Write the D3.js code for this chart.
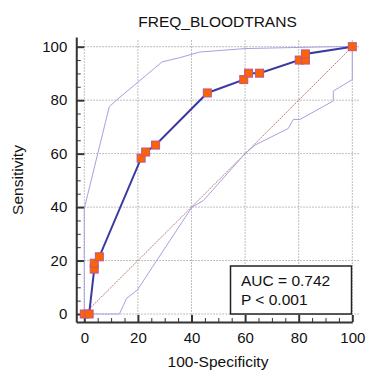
<!DOCTYPE html>
<html>
<head>
<meta charset="utf-8">
<script src="https://cdn.jsdelivr.net/npm/d3@7"></script>
<style>
  html, body { margin: 0; padding: 0; background: #fff; }
  svg { display: block; font-family: "Liberation Sans", Arial, sans-serif; }
  .axis path, .axis line { stroke: #333; }
  .axis text { fill: #111; font-size: 15px; }
</style>
</head>
<body>
<div id="chart"></div>
<script>
// ROC points (100-Specificity, Sensitivity)
const rocX = [0, 1.8, 3.7, 3.7, 5.6, 21.2, 22.9, 26.6, 45.9, 59.5, 61.3, 65.4, 80.2, 82.5, 82.5, 100];
const rocY = [0, 0, 16.8, 19.0, 21.4, 58.3, 60.6, 63.2, 82.7, 87.7, 90.1, 90.1, 95.0, 95.0, 97.3, 100];

// 95% confidence bounds
const upperX = [0, 0, 9.3, 12, 29, 36, 43, 60, 93, 100];
const upperY = [0, 39.5, 77.5, 80, 94.3, 96, 98, 99.3, 100, 100];
const lowerX = [0, 13.1, 15.8, 17.4, 19.8, 40.1, 44.4, 60, 63.7, 76.1, 78, 80.5, 92.9, 92.9, 100, 100];
const lowerY = [0, 0, 5.9, 7.1, 9.0, 39.9, 42.4, 60, 63.2, 69.4, 72.8, 72.8, 79.7, 83.4, 87.7, 100];

const diagX = [0, 100];
const diagY = [0, 100];

const majorTicks = [0, 20, 40, 60, 80, 100];
const minorTicks = [5, 10, 15, 25, 30, 35, 45, 50, 55, 65, 70, 75, 85, 90, 95];

const title = 'FREQ_BLOODTRANS';
const xTitle = '100-Specificity';
const yTitle = 'Sensitivity';
const statLines = ['AUC = 0.742', 'P < 0.001'];

const width = 366;
const height = 370;

const x = d3.scaleLinear().domain([0, 100]).range([84.3, 352.3]);
const y = d3.scaleLinear().domain([0, 100]).range([314, 46.7]);

const zip = (xs, ys) => xs.map((v, i) => [v, ys[i]]);

const svg = d3.select('#chart')
  .append('svg')
  .attr('width', width)
  .attr('height', height);

// grid
const grid = svg.append('g').attr('class', 'grid');
grid.selectAll('.hgrid')
  .data(majorTicks)
  .join('line')
  .attr('x1', x(0))
  .attr('x2', x(103))
  .attr('y1', d => y(d))
  .attr('y2', d => y(d))
  .attr('stroke', '#aaa')
  .attr('stroke-dasharray', '1.5,1.5');
grid.selectAll('.vgrid')
  .data(majorTicks)
  .join('line')
  .attr('x1', d => x(d))
  .attr('x2', d => x(d))
  .attr('y1', y(-0.3))
  .attr('y2', y(102.5))
  .attr('stroke', '#aaa')
  .attr('stroke-dasharray', '1.5,1.5');

// axes (offset outward from the plot area)
const xAx = d3.scaleLinear().domain([-3, 100]).range([x(-3), x(100)]);
const yAx = d3.scaleLinear().domain([-3, 103.6]).range([y(-3), y(103.6)]);
const xAxisY = y(-3);
const yAxisX = x(-3);

svg.append('g')
  .attr('class', 'axis')
  .attr('transform', `translate(0,${xAxisY})`)
  .call(d3.axisBottom(xAx).tickValues(majorTicks).tickSize(-7).tickSizeOuter(0).tickPadding(10))
  .call(g => g.select('.domain').attr('stroke-width', 2))
  .call(g => g.selectAll('.tick line').attr('stroke-width', 2))
  .call(g => g.selectAll('.tick text').attr('font-size', 15));

svg.append('g')
  .attr('class', 'axis')
  .attr('transform', `translate(0,${xAxisY})`)
  .call(d3.axisBottom(xAx).tickValues(minorTicks).tickSize(-4).tickSizeOuter(0).tickFormat(''))
  .call(g => g.select('.domain').remove());

svg.append('g')
  .attr('class', 'axis')
  .attr('transform', `translate(${yAxisX},0)`)
  .call(d3.axisLeft(yAx).tickValues(majorTicks).tickSize(-8).tickSizeOuter(0).tickPadding(9))
  .call(g => g.select('.domain').attr('stroke-width', 2))
  .call(g => g.selectAll('.tick line').attr('stroke-width', 2))
  .call(g => g.selectAll('.tick text').attr('font-size', 15));

svg.append('g')
  .attr('class', 'axis')
  .attr('transform', `translate(${yAxisX},0)`)
  .call(d3.axisLeft(yAx).tickValues(minorTicks).tickSize(-4.5).tickSizeOuter(0).tickFormat(''))
  .call(g => g.select('.domain').remove());

const line = d3.line()
  .x(d => x(d[0]))
  .y(d => y(d[1]));

// diagonal reference
svg.append('path')
  .datum(zip(diagX, diagY))
  .attr('d', line)
  .attr('fill', 'none')
  .attr('stroke', '#c47474')
  .attr('stroke-width', 1)
  .attr('stroke-dasharray', '2,1');

// confidence bounds
[zip(upperX, upperY), zip(lowerX, lowerY)].forEach(pts => {
  svg.append('path')
    .datum(pts)
    .attr('d', line)
    .attr('fill', 'none')
    .attr('stroke', '#a2a2e2')
    .attr('stroke-width', 1);
});

// ROC curve
const roc = zip(rocX, rocY);
svg.append('path')
  .datum(roc)
  .attr('d', line)
  .attr('fill', 'none')
  .attr('stroke', '#3a3aa2')
  .attr('stroke-width', 2);

svg.selectAll('.pt')
  .data(roc)
  .join('rect')
  .attr('class', 'pt')
  .attr('x', d => x(d[0]) - 4)
  .attr('y', d => y(d[1]) - 4)
  .attr('width', 8)
  .attr('height', 8)
  .attr('fill', '#ff6200')
  .attr('stroke', '#b8588e')
  .attr('stroke-width', 1);

// stats box
const box = svg.append('g');
box.append('rect')
  .attr('x', 230.5)
  .attr('y', 266)
  .attr('width', 121)
  .attr('height', 48)
  .attr('fill', '#fff')
  .attr('stroke', '#222')
  .attr('stroke-width', 1.5);
box.selectAll('text')
  .data(statLines)
  .join('text')
  .attr('x', 241)
  .attr('y', (d, i) => 286 + i * 18.5)
  .attr('font-size', 15.5)
  .attr('fill', '#111')
  .text(d => d);

// titles
svg.append('text')
  .attr('x', 217.5)
  .attr('y', 27)
  .attr('text-anchor', 'middle')
  .attr('font-size', 15.5)
  .attr('fill', '#111')
  .text(title);

svg.append('text')
  .attr('x', 218)
  .attr('y', 367)
  .attr('text-anchor', 'middle')
  .attr('font-size', 15.5)
  .attr('fill', '#111')
  .text(xTitle);

svg.append('text')
  .attr('transform', `translate(23,${180}) rotate(-90)`)
  .attr('text-anchor', 'middle')
  .attr('font-size', 15.5)
  .attr('fill', '#111')
  .text(yTitle);
</script>
</body>
</html>
